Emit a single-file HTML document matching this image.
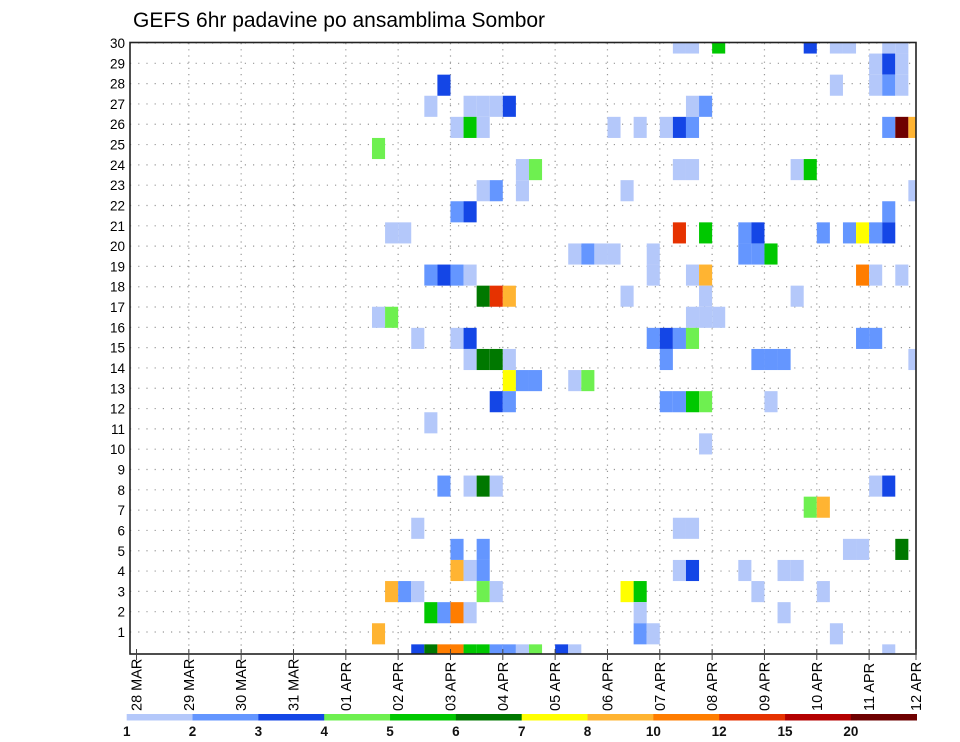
<!DOCTYPE html>
<html><head><meta charset="utf-8"><style>
html,body{margin:0;padding:0;background:#fff;}
svg{display:block;font-family:"Liberation Sans",sans-serif;}
</style></head><body>
<svg id="chart" width="960" height="742" viewBox="0 0 960 742" xmlns="http://www.w3.org/2000/svg">
<text x="133" y="27" font-size="21" fill="#000">GEFS 6hr padavine po ansamblima Sombor</text>
<defs><clipPath id="pc"><rect x="130" y="43" width="786" height="611"/></clipPath></defs>
<g id="grid"></g>
<g id="cells" clip-path="url(#pc)"></g>
<rect x="130" y="42.5" width="786" height="611.5" fill="none" stroke="#222" stroke-width="1.6"/>
<g id="yaxis"></g>
<g id="xaxis"></g>
<g id="cbar"></g>
</svg>
<script>
const members = [30,30,30,30,30,30,30,30, 29,29,29, 28,28,28,28,28,
27,27,27,27,27,27,27, 26,26,26,26,26,26,26,26,26,26,26, 25, 24,24,24,24,24,24,
23,23,23,23,23, 22,22,22, 21,21,21,21,21,21,21,21,21,21,21, 20,20,20,20,20,20,20,20,
19,19,19,19,19,19,19,19,19,19, 18,18,18,18,18,18, 17,17,17,17,17,
16,16,16,16,16,16,16,16,16, 15,15,15,15,15,15,15,15,15, 14,14,14,14,14,
13,13,13,13,13,13,13, 12, 11, 9,9,9,9,9,9, 8,8, 7,7,7, 6,6,6,6,6,
5,5,5,5,5,5,5,5, 4,4,4,4,4,4,4,4,4, 3,3,3,3,3,3, 2,2,2,2,
1,1,1,1,1,1,1,1,1,1,1,1,1];
const steps = [41,42,44,51,53,54,57,58, 56,57,58, 23,53,56,57,58,
22,25,26,27,28,42,43, 24,25,26,36,38,40,41,42,57,58,59, 18, 29,30,41,42,50,51,
26,27,29,37,59, 24,25,57, 19,20,41,43,46,47,52,54,55,56,57, 33,34,35,36,39,46,47,48,
22,23,24,25,39,42,43,55,56,58, 26,27,28,37,43,50, 18,19,42,43,44,
21,24,25,39,40,41,42,55,56, 25,26,27,28,40,47,48,49,59, 28,29,30,33,34,
27,28,40,41,42,43,48, 22, 43, 23,25,26,27,56,57, 51,52, 21,41,42, 24,26,54,55,58,
24,25,26,41,42,46,49,50, 19,20,21,26,27,37,38,47,52, 22,23,24,25,38,49, 18,38,39,53,
21,22,23,24,25,26,27,28,29,30,32,33,57];
const precip = [1,1,5,3,1,1,1,1, 1,3,1, 3,1,1,2,1,
1,1,1,1,3,1,2, 1,5,1,1,1,1,3,2,2,20,8, 4, 1,4,1,1,1,5,
1,2,1,1,1, 2,3,2, 1,1,12,5,2,3,2,2,7,2,3, 1,2,1,1,1,2,2,5,
2,3,2,1,1,1,8,10,1,1, 6,12,8,1,1,1, 1,4,1,1,1,
1,1,3,2,3,2,4,2,2, 1,6,6,1,2,2,2,2,1, 7,2,2,1,4,
3,2,2,2,5,4,1, 1, 1, 2,1,6,1,1,3, 4,8, 1,1,1, 2,2,1,1,6,
8,1,2,1,3,1,1,1, 8,2,1,4,1,7,5,1,1, 5,2,10,1,1,1, 8,2,1,1,
3,6,10,10,5,5,2,2,1,4,3,1,1];
const levels = [1,2,3,4,5,6,7,8,10,12,15,20];
const levelColors = ["#b4c8fa","#6496ff","#1446e6","#6ef050","#00c800","#007800","#ffff00","#ffb432","#ff7d00","#e63200","#b40000","#6e0000"];
const dayLabels = ["28 MAR","29 MAR","30 MAR","31 MAR","01 APR","02 APR","03 APR","04 APR","05 APR","06 APR","07 APR","08 APR","09 APR","10 APR","11 APR","12 APR"];
const yTicks = [1,2,3,4,5,6,7,8,9,10,11,12,13,14,15,16,17,18,19,20,21,22,23,24,25,26,27,28,29,30];

const NS="http://www.w3.org/2000/svg";
function mk(tag, attrs, parent){const e=document.createElementNS(NS,tag);for(const k in attrs)e.setAttribute(k,attrs[k]);parent.appendChild(e);return e;}
const X0=136.5, DAY=52.33, CELL=DAY/4;
function xStep(s){return X0+s*CELL;}
function xDay(d){return Math.min(X0+d*DAY,916);}
function yCell(m){return 43+(30-m)*21.1;}
function yLabel(r){return 43+(30-r)*20.31;}
function colorFor(v){let i=0;for(let k=0;k<levels.length;k++){if(v>=levels[k])i=k;}return levelColors[i];}

const grid=document.getElementById('grid');
yTicks.forEach(r=>{
  const l=mk('line',{x1:130,x2:916,y1:yLabel(r),y2:yLabel(r),stroke:'#999','stroke-width':1.2,'stroke-dasharray':'1.2,7'},grid);
  
  
});
dayLabels.forEach((d,i)=>{
  if(i===0||i===15)return;
  const l=mk('line',{x1:xDay(i),x2:xDay(i),y1:43,y2:654,stroke:'#999','stroke-width':1.2,'stroke-dasharray':'1.2,5'},grid);
  
  
});

const cells=document.getElementById('cells');
members.forEach((m,i)=>{
  const r=mk('rect',{x:xStep(steps[i]),y:yCell(m)-10.55,width:CELL,height:21.1,fill:colorFor(precip[i])},cells);
  
  
});

const ya=document.getElementById('yaxis');
yTicks.forEach(r=>{
  const t=mk('text',{x:125,y:yLabel(r)+5,'text-anchor':'end','font-size':13.5,fill:'#000'},ya);
  t.textContent=r;
  
  
});

const xa=document.getElementById('xaxis');
dayLabels.forEach((d,i)=>{
  const x=xDay(i);
  mk('line',{x1:x,x2:x,y1:649,y2:660,stroke:'#444','stroke-width':1},xa);
  const t=mk('text',{transform:`translate(${x+5},711) rotate(-90)`,'font-size':14.5,fill:'#000'},xa);
  t.textContent=d;
  
  
});

const cb=document.getElementById('cbar');
const CB0=126.7, CBW=(916.7-126.7)/12;
levelColors.forEach((c,i)=>{
  const r=mk('rect',{x:CB0+i*CBW,y:714,width:CBW+0.3,height:6.5,fill:c},cb);
  
  
  const t=mk('text',{x:CB0+i*CBW,y:736,'text-anchor':'middle','font-size':13.5,'font-weight':'bold',fill:'#111'},cb);
  t.textContent=levels[i];
  
  
});
</script>
</body></html>
